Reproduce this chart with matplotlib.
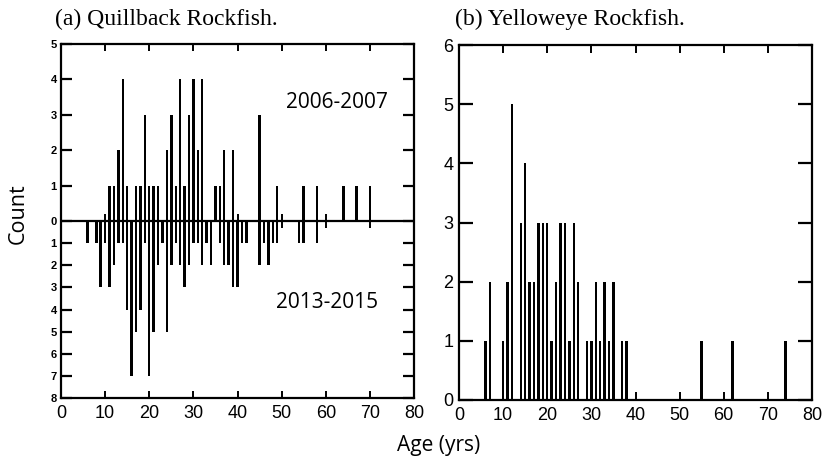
import numpy as np
import matplotlib
matplotlib.use("Agg")
import matplotlib.pyplot as plt

# (a) Quillback Rockfish, 2006-2007 (upper) and 2013-2015 (lower)
qb_ages_0607 = [11, 12, 13, 14, 15, 17, 18, 19, 20, 21, 22, 24, 25, 26, 27, 28,
                29, 30, 31, 32, 35, 36, 37, 39, 45, 49, 55, 58, 64, 67, 70]
qb_counts_0607 = [1, 1, 2, 4, 1, 1, 1, 3, 1, 1, 1, 2, 3, 1, 4, 1,
                  3, 4, 2, 4, 1, 1, 2, 2, 3, 1, 1, 1, 1, 1, 1]

qb_ages_1315 = [6, 8, 9, 10, 11, 12, 13, 14, 15, 16, 17, 18, 19, 20, 21, 22, 23,
                24, 25, 26, 27, 28, 29, 30, 31, 32, 33, 34, 36, 37, 38, 39, 40,
                41, 42, 45, 46, 47, 48, 49, 54, 55, 58]
qb_counts_1315 = [1, 1, 3, 1, 3, 2, 1, 1, 4, 7, 5, 4, 1, 7, 5, 2, 1,
                  5, 2, 1, 2, 3, 2, 1, 1, 2, 1, 2, 1, 2, 2, 3, 3,
                  1, 1, 2, 1, 2, 1, 1, 1, 1, 1]

# (b) Yelloweye Rockfish
ye_ages = [6, 7, 10, 11, 12, 14, 15, 16, 17, 18, 19, 20, 21, 22, 23, 24, 25,
           26, 27, 29, 30, 31, 32, 33, 34, 35, 37, 38, 55, 62, 74]
ye_counts = [1, 2, 1, 2, 5, 3, 4, 2, 2, 3, 3, 3, 1, 2, 3, 3, 1,
             3, 2, 1, 1, 2, 1, 2, 1, 2, 1, 1, 1, 1, 1]

x_ticks = [0, 10, 20, 30, 40, 50, 60, 70, 80]

W, H = 823, 458
fig = plt.figure(figsize=(W / 100, H / 100), dpi=100)

tick_font = "Liberation Sans"
label_font = "Open Sans"
bar_w = 0.55


def fwd(y):
    y = np.asarray(y, dtype=float)
    return np.where(y >= 0, y / 5.0, y / 8.0)


def inv(u):
    u = np.asarray(u, dtype=float)
    return np.where(u >= 0, u * 5.0, u * 8.0)


# ---- left panel ----
ax1 = fig.add_axes([61 / W, 1 - 398 / H, (414 - 61) / W, (398 - 44) / H])
ax1.set_yscale("function", functions=(fwd, inv))
ax1.bar(qb_ages_0607, qb_counts_0607, width=bar_w, color="black", linewidth=0)
ax1.bar(qb_ages_1315, [-c for c in qb_counts_1315], width=bar_w, color="black",
        linewidth=0)
ax1.axhline(0, color="black", linewidth=1.6)
ax1.vlines(x_ticks[1:-1], -0.3, 0.2, color="black", linewidth=1.4)
ax1.set_xlim(0, 80)
ax1.set_ylim(-8, 5)
yt = list(range(-8, 6))
ax1.set_yticks(yt)
ax1.set_yticklabels([str(abs(v)) for v in yt], fontsize=8, fontweight="bold",
                    family=tick_font)
ax1.tick_params(axis="y", direction="in", length=8, width=1.6, right=True,
                pad=3)
ax1.set_xticks(x_ticks)
ax1.set_xticklabels([str(v) for v in x_ticks], fontsize=13, family=tick_font)
ax1.tick_params(axis="x", direction="in", length=5, width=1.4, top=True, pad=5)
for s in ax1.spines.values():
    s.set_linewidth(1.6)
ax1.text(0.925, 0.835, "2006-2007", transform=ax1.transAxes, ha="right",
         va="center", fontsize=15, family=label_font)
ax1.text(0.898, 0.27, "2013-2015", transform=ax1.transAxes, ha="right",
         va="center", fontsize=15, family=label_font)
fig.text(55 / W, 1 - 19 / H, "(a) Quillback Rockfish.", fontsize=17,
         family="Liberation Serif", ha="left", va="center")

# ---- right panel ----
ax2 = fig.add_axes([459 / W, 1 - 400 / H, (812 - 459) / W, (400 - 45) / H])
ax2.bar(ye_ages, ye_counts, width=bar_w, color="black", linewidth=0)
ax2.set_xlim(0, 80)
ax2.set_ylim(0, 6)
ax2.set_yticks(range(0, 7))
ax2.set_yticklabels([str(v) for v in range(0, 7)], fontsize=13,
                    family=tick_font)
ax2.tick_params(axis="y", direction="in", length=10, width=1.6, right=True,
                pad=4)
ax2.set_xticks(x_ticks)
ax2.set_xticklabels([str(v) for v in x_ticks], fontsize=13, family=tick_font)
ax2.tick_params(axis="x", direction="in", length=6, width=1.4, top=True, pad=5)
for s in ax2.spines.values():
    s.set_linewidth(1.6)
fig.text(455 / W, 1 - 19 / H, "(b) Yelloweye Rockfish.", fontsize=17,
         family="Liberation Serif", ha="left", va="center")

fig.text(18 / W, 1 - 214 / H, "Count", fontsize=15.5, family=label_font,
         ha="center", va="center", rotation=90)
fig.text(397 / W, 1 - 445 / H, "Age (yrs)", fontsize=15, family=label_font,
         ha="left", va="center")

fig.savefig("out.png", dpi=100)
